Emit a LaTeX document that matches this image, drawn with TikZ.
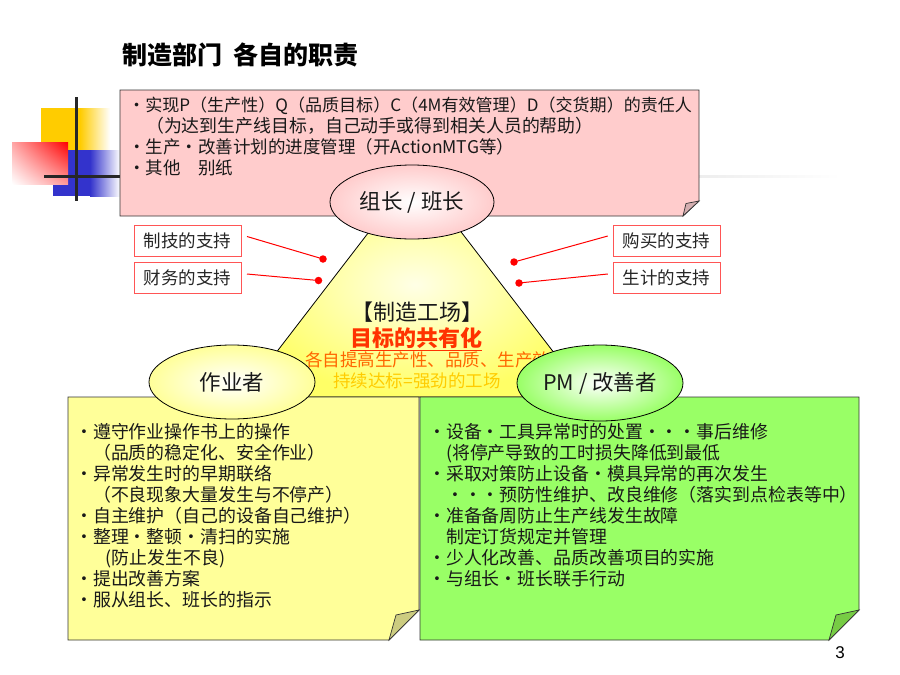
\documentclass[tikz,border=0pt]{standalone}
\usepackage{fontspec}
\setmainfont{Noto Sans CJK SC}
\newfontfamily\numfont{Liberation Sans}
\usetikzlibrary{shapes.geometric,shadings}
\definecolor{pinkfill}{HTML}{FFCCCC}
\definecolor{pinkflap}{HTML}{D4AEB0}
\definecolor{yelbox}{HTML}{FFFF99}
\definecolor{yelflap}{HTML}{CCCC80}
\definecolor{grnbox}{HTML}{99FF66}
\definecolor{grnflap}{HTML}{77CC44}
\definecolor{trifill}{HTML}{FFFF66}
\definecolor{tricenter}{HTML}{FFFFE6}
\definecolor{decoY}{HTML}{FFCC00}
\definecolor{decoB}{HTML}{3333CC}
\definecolor{redtxt}{HTML}{FF3300}
\definecolor{orgtxt}{HTML}{FF6600}
\definecolor{goldtxt}{HTML}{FFCC00}
\definecolor{supred}{HTML}{FF5555}
\tikzset{
  txt/.style={anchor=base west, inner sep=0pt, font=\fontsize{17.9}{21}\selectfont, text=black!90},
  supbox/.style={draw=supred, line width=1pt, fill=white, minimum width=107pt, minimum height=31pt, inner sep=0pt, font=\fontsize{17.5}{21}\selectfont, text=black!85},
  dot/.style={circle, fill=red, inner sep=0pt, minimum size=7.5pt},
  conn/.style={draw=red, line width=1pt},
  role/.style={ellipse, draw=black, line width=0.8pt, inner sep=0pt, font=\fontsize{21.5}{24}\selectfont, text=black!90},
  note/.style={draw=black!80, line width=0.9pt},
  flap/.style={draw=black!80, line width=0.7pt},
}
\begin{document}
\begin{tikzpicture}[x=1pt,y=-1pt]
\useasboundingbox (0,0) rectangle (900,675);
% title
\node[anchor=base west, inner sep=0pt, font=\fontsize{25}{28}\selectfont\bfseries] (title) at (122,64.5) {制造部门\hspace{0.45em}各自的职责};
% decoration
\fill[decoY] (41,108) rectangle (80,150);
\shade[left color=decoY, right color=white] (80,108) rectangle (110,150);
\fill[decoB] (53,150) rectangle (90,196);
\shade[left color=decoB, right color=white] (90,150) rectangle (120,196);
\shade[upper left=red!35, upper right=red, lower left=white, lower right=red!40] (12,142) rectangle (68,184);
\fill[black!85] (75.2,97) rectangle (78.4,200.7);
\fill[black!85] (44,174.5) rectangle (120,177.6);
\shade[left color=black!7, right color=white] (699,175) rectangle (840,177.5);
% triangle
\shadedraw[inner color=tricenter, outer color=trifill, draw=black, line width=0.8pt] (415,172) -- (588,397) -- (242,397) -- cycle;
% top pink note
\draw[note, fill=pinkfill] (120,90) -- (699,90) -- (699,201) -- (683,216) -- (120,216) -- cycle;
\draw[flap, fill=pinkflap] (683,216) -- (686,203.5) -- (699,201) -- cycle;
\node[txt, font=\fontsize{17.05}{21}\selectfont] (pl1) at (128,111.6) {・实现P（生产性）Q（品质目标）C（4M有效管理）D（交货期）的责任人};
\node[txt] (pl2) at (128,132.6) {　（为达到生产线目标，自己动手或得到相关人员的帮助）};
\node[txt, font=\fontsize{17.5}{21}\selectfont] (pl3) at (128,153.6) {・生产・改善计划的进度管理（开ActionMTG等）};
\node[txt, font=\fontsize{17.5}{21}\selectfont] (pl4) at (128,174.6) {・其他　别纸};
% triangle texts
\node[inner sep=0pt, font=\fontsize{22}{24}\selectfont, text=black!90] (fac) at (417,312) {【制造工场】};
\node[inner sep=0pt, font=\fontsize{22}{24}\selectfont\bfseries, text=redtxt] (goal) at (416,339) {\underline{目标的共有化}};
\node[anchor=west, inner sep=0pt, font=\fontsize{17.5}{20}\selectfont, text=orgtxt] (each) at (305,360) {各自提高生产性、品质、生产效率};
\node[inner sep=0pt, font=\fontsize{17.5}{20}\selectfont, text=goldtxt] (keep) at (417,381) {持续达标=强劲的工场};
% leader ellipse
\node[role, minimum width=164pt, minimum height=74pt, inner color=white, outer color=pinkfill] (lead) at (412,202) {组长 / 班长};
% support boxes
\node[supbox] (b1) at (187.5,240.5) {制技的支持};
\node[supbox] (b2) at (187.5,277.5) {财务的支持};
\node[supbox] (b3) at (666.5,240.5) {购买的支持};
\node[supbox] (b4) at (666.5,277.5) {生计的支持};
\node[dot] (d1) at (323,259) {};
\node[dot] (d2) at (318.5,280.5) {};
\node[dot] (d3) at (514,262) {};
\node[dot] (d4) at (519,283) {};
\draw[conn] ([xshift=5.5pt,yshift=4pt]b1.east) -- (d1.center);
\draw[conn] ([xshift=5.5pt,yshift=3.5pt]b2.east) -- (d2.center);
\draw[conn] ([xshift=-4.7pt,yshift=4.5pt]b3.west) -- (d3.center);
\draw[conn] ([xshift=-4.7pt,yshift=3.5pt]b4.west) -- (d4.center);
% bottom notes
\draw[note, fill=yelbox] (68,397) -- (419,397) -- (419,610) -- (389,640) -- (68,640) -- cycle;
\draw[flap, fill=yelflap] (389,640) -- (396,615) -- (419,610) -- cycle;
\draw[note, fill=grnbox] (420,397) -- (859,397) -- (859,610) -- (829,640) -- (420,640) -- cycle;
\draw[flap, fill=grnflap] (829,640) -- (836,615) -- (859,610) -- cycle;
\foreach \t [count=\i] in {{・遵守作业操作书上的操作},{　（品质的稳定化、安全作业）},{・异常发生时的早期联络},
  {　（不良现象大量发生与不停产）},{・自主维护（自己的设备自己维护）},{・整理・整顿・清扫的实施},
  {\hspace{1.7em}(防止发生不良)},{・提出改善方案},{・服从组长、班长的指示}}
  \node[txt] (yl\i) at (75,{438.2+21*(\i-1)}) {\t};
\foreach \t [count=\i] in {{・设备・工具异常时的处置・・・事后维修},{　(将停产导致的工时损失降低到最低},
  {・采取对策防止设备・模具异常的再次发生},{　・・・预防性维护、改良维修（落实到点检表等中）},
  {・准备备周防止生产线发生故障},{　制定订货规定并管理},{・少人化改善、品质改善项目的实施},
  {・与组长・班长联手行动}}
  \node[txt] (gl\i) at (428,{438.2+21*(\i-1)}) {\t};
% role ellipses
\node[role, minimum width=166pt, minimum height=74pt, inner color=white, outer color=yelbox] (op) at (232,382) {作业者};
\node[role, minimum width=166pt, minimum height=76pt, inner color=white, outer color=grnbox] (pm) at (600,383) {PM / 改善者};
% page number
\node[inner sep=0pt, font=\numfont\fontsize{17}{20}\selectfont] (pg) at (840,653) {3};
\end{tikzpicture}
\end{document}
